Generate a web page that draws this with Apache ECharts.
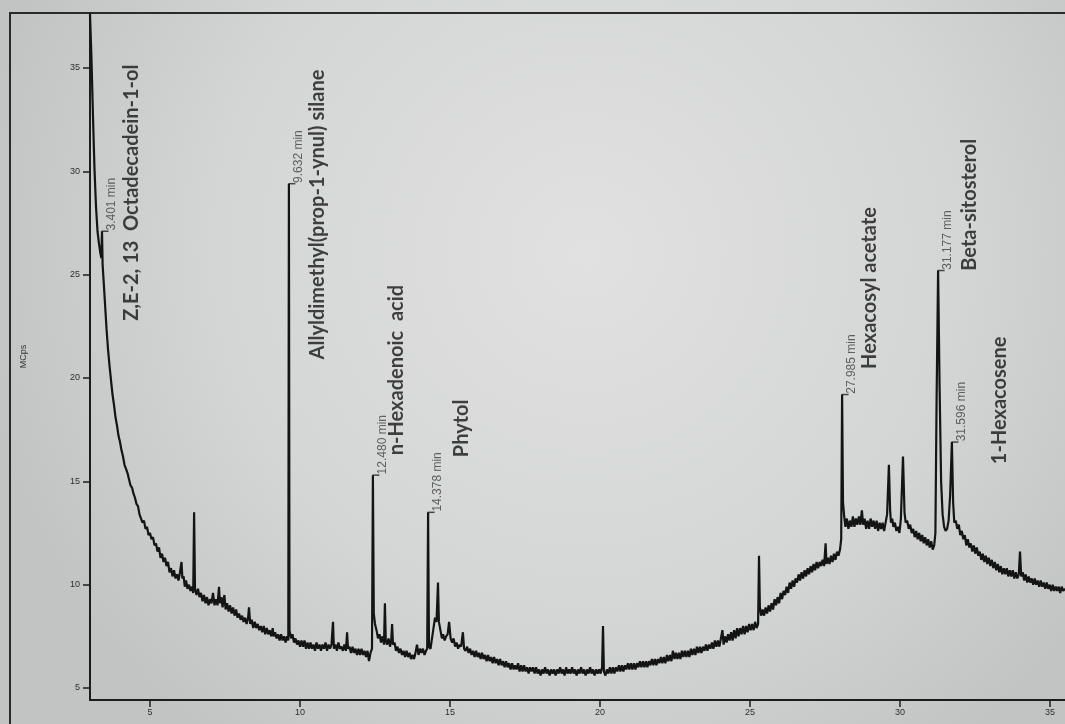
<!DOCTYPE html>
<html>
<head>
<meta charset="utf-8">
<title>GC-MS chromatogram</title>
<script src="https://cdn.jsdelivr.net/npm/echarts@6/dist/echarts.min.js"></script>
<style>
    html, body { margin: 0; padding: 0; background: #cfd1d0; }
    #chart { width: 1065px; height: 724px; }
</style>
</head>
<body>
<div id="chart"></div>
<script>
/**
 * Chromatogram trace: [retention time (min), signal (MCps)]
 */
const trace = [
    [3.00, 37.6], [3.05, 35.4], [3.10, 32.6], [3.15, 30.1], [3.20, 28.3], [3.25, 27.1], [3.30, 26.5], [3.35, 26.0],
    [3.38, 25.8], [3.40, 27.1], [3.42, 25.5], [3.45, 24.8], [3.50, 23.6], [3.55, 22.4], [3.60, 21.4], [3.65, 20.6],
    [3.70, 19.9], [3.75, 19.2], [3.80, 18.7], [3.85, 18.1], [3.90, 17.7], [3.95, 17.2], [4.00, 16.9], [4.05, 16.5],
    [4.10, 16.2], [4.15, 15.8], [4.20, 15.6], [4.25, 15.4], [4.30, 15.1], [4.35, 14.8], [4.40, 14.7], [4.45, 14.4],
    [4.50, 14.2], [4.55, 13.9], [4.60, 13.8], [4.65, 13.4], [4.70, 13.4], [4.75, 13.0], [4.80, 13.1], [4.85, 12.7],
    [4.90, 12.8], [4.95, 12.4], [5.00, 12.5], [5.05, 12.2], [5.10, 12.3], [5.15, 11.9], [5.20, 12.0], [5.25, 11.6],
    [5.30, 11.8], [5.35, 11.3], [5.40, 11.5], [5.45, 11.1], [5.50, 11.3], [5.55, 10.9], [5.60, 11.1], [5.65, 10.6],
    [5.70, 10.8], [5.75, 10.4], [5.80, 10.7], [5.85, 10.3], [5.90, 10.5], [5.95, 10.2], [6.00, 10.6], [6.05, 11.1],
    [6.08, 10.3], [6.12, 10.4], [6.16, 9.9], [6.20, 10.2], [6.25, 9.8], [6.30, 10.0], [6.35, 9.7], [6.40, 9.9],
    [6.44, 9.6], [6.47, 13.5], [6.50, 9.8], [6.55, 9.5], [6.60, 9.8], [6.65, 9.4], [6.70, 9.6], [6.75, 9.2],
    [6.80, 9.5], [6.85, 9.1], [6.90, 9.4], [6.95, 9.0], [7.00, 9.3], [7.05, 9.1], [7.10, 9.6], [7.15, 9.0],
    [7.20, 9.3], [7.25, 9.0], [7.30, 9.9], [7.33, 9.1], [7.38, 9.4], [7.42, 8.9], [7.48, 9.5], [7.52, 8.8],
    [7.57, 9.1], [7.62, 8.7], [7.67, 9.0], [7.72, 8.6], [7.77, 8.9], [7.82, 8.5], [7.87, 8.8], [7.92, 8.4],
    [7.97, 8.6], [8.02, 8.3], [8.07, 8.5], [8.12, 8.2], [8.17, 8.4], [8.22, 8.1], [8.27, 8.4], [8.30, 8.9],
    [8.34, 8.1], [8.39, 8.3], [8.44, 7.9], [8.49, 8.2], [8.54, 7.9], [8.59, 8.1], [8.64, 7.8], [8.69, 8.0],
    [8.74, 7.7], [8.79, 8.0], [8.84, 7.6], [8.89, 7.9], [8.94, 7.6], [8.99, 7.8], [9.04, 7.5], [9.09, 7.9],
    [9.12, 7.5], [9.17, 7.7], [9.22, 7.4], [9.27, 7.6], [9.32, 7.3], [9.37, 7.6], [9.42, 7.3], [9.47, 7.5],
    [9.52, 7.2], [9.57, 7.5], [9.61, 7.3], [9.63, 29.4], [9.65, 7.8], [9.70, 7.4], [9.75, 7.6], [9.80, 7.2],
    [9.85, 7.4], [9.90, 7.1], [9.95, 7.3], [10.00, 7.0], [10.05, 7.3], [10.10, 7.0], [10.15, 7.3], [10.20, 6.9],
    [10.25, 7.2], [10.30, 6.9], [10.35, 7.2], [10.40, 6.9], [10.45, 7.1], [10.50, 6.8], [10.55, 7.2], [10.60, 6.9],
    [10.65, 7.1], [10.70, 6.8], [10.75, 7.1], [10.80, 6.9], [10.85, 7.2], [10.90, 6.8], [10.95, 7.1], [11.00, 6.9],
    [11.05, 7.1], [11.10, 8.2], [11.13, 6.9], [11.18, 7.1], [11.23, 6.8], [11.28, 7.2], [11.33, 6.9], [11.38, 7.0],
    [11.43, 6.8], [11.48, 7.1], [11.53, 6.8], [11.57, 7.7], [11.60, 6.9], [11.65, 7.0], [11.70, 6.7], [11.75, 7.0],
    [11.80, 6.7], [11.85, 6.9], [11.90, 6.6], [11.95, 6.9], [12.00, 6.6], [12.05, 6.9], [12.10, 6.6], [12.15, 6.8],
    [12.20, 6.5], [12.25, 6.8], [12.30, 6.3], [12.35, 6.7], [12.40, 6.9], [12.43, 15.3], [12.46, 8.6], [12.50, 8.1],
    [12.55, 7.8], [12.60, 7.4], [12.65, 7.6], [12.70, 7.2], [12.75, 7.5], [12.80, 7.1], [12.83, 9.1], [12.86, 7.3],
    [12.90, 7.1], [12.95, 7.4], [13.00, 7.0], [13.04, 7.3], [13.07, 8.1], [13.10, 7.1], [13.15, 7.2], [13.20, 6.8],
    [13.25, 7.0], [13.30, 6.7], [13.35, 6.9], [13.40, 6.6], [13.45, 6.8], [13.50, 6.5], [13.55, 6.8], [13.60, 6.5],
    [13.65, 6.7], [13.70, 6.4], [13.75, 6.6], [13.80, 6.4], [13.85, 6.7], [13.90, 7.1], [13.95, 6.6], [14.00, 6.9],
    [14.05, 6.7], [14.10, 6.9], [14.15, 6.6], [14.20, 6.8], [14.24, 6.9], [14.27, 13.5], [14.30, 7.0], [14.35, 6.9],
    [14.40, 7.4], [14.45, 7.9], [14.50, 8.4], [14.55, 8.2], [14.60, 10.1], [14.63, 8.2], [14.68, 7.8], [14.73, 7.4],
    [14.77, 7.6], [14.82, 7.3], [14.87, 7.5], [14.92, 7.6], [14.97, 8.2], [15.02, 7.4], [15.07, 7.2], [15.12, 7.4],
    [15.17, 7.0], [15.22, 7.2], [15.27, 6.9], [15.32, 7.1], [15.37, 7.0], [15.43, 7.7], [15.47, 6.9], [15.52, 6.8],
    [15.57, 7.0], [15.62, 6.7], [15.67, 6.9], [15.72, 6.6], [15.77, 6.8], [15.82, 6.5], [15.87, 6.8], [15.92, 6.5],
    [15.97, 6.7], [16.02, 6.4], [16.07, 6.7], [16.12, 6.4], [16.17, 6.6], [16.22, 6.3], [16.27, 6.6], [16.32, 6.3],
    [16.37, 6.5], [16.42, 6.2], [16.47, 6.5], [16.52, 6.2], [16.57, 6.4], [16.62, 6.1], [16.67, 6.4], [16.72, 6.1],
    [16.77, 6.3], [16.82, 6.0], [16.87, 6.3], [16.92, 6.0], [16.97, 6.2], [17.02, 5.9], [17.07, 6.2], [17.12, 5.9],
    [17.17, 6.1], [17.22, 5.9], [17.27, 6.2], [17.32, 5.8], [17.37, 6.1], [17.42, 5.8], [17.47, 6.1], [17.52, 5.8],
    [17.57, 6.0], [17.62, 5.7], [17.67, 6.0], [17.72, 5.8], [17.77, 6.0], [17.82, 5.7], [17.87, 6.0], [17.92, 5.7],
    [17.97, 5.9], [18.02, 5.6], [18.07, 5.9], [18.12, 5.7], [18.17, 6.0], [18.22, 5.7], [18.27, 5.9], [18.32, 5.6],
    [18.37, 5.9], [18.42, 5.7], [18.47, 5.9], [18.52, 5.6], [18.57, 5.9], [18.62, 5.7], [18.67, 6.0], [18.72, 5.7],
    [18.77, 5.9], [18.82, 5.6], [18.87, 6.0], [18.92, 5.7], [18.97, 5.9], [19.02, 5.7], [19.07, 6.0], [19.12, 5.7],
    [19.17, 5.9], [19.22, 5.6], [19.27, 5.9], [19.32, 5.7], [19.37, 6.0], [19.42, 5.7], [19.47, 5.9], [19.52, 5.6],
    [19.57, 5.9], [19.62, 5.7], [19.67, 6.0], [19.72, 5.7], [19.77, 5.9], [19.82, 5.6], [19.87, 5.9], [19.92, 5.7],
    [19.97, 5.9], [20.02, 5.7], [20.07, 6.0], [20.10, 8.0], [20.13, 5.8], [20.18, 5.6], [20.23, 5.9], [20.28, 5.7],
    [20.33, 6.0], [20.38, 5.7], [20.43, 6.0], [20.48, 5.7], [20.53, 6.0], [20.58, 5.8], [20.63, 6.1], [20.68, 5.8],
    [20.73, 6.1], [20.78, 5.8], [20.83, 6.1], [20.88, 5.9], [20.93, 6.2], [20.98, 5.9], [21.03, 6.2], [21.08, 5.9],
    [21.13, 6.2], [21.18, 5.9], [21.23, 6.2], [21.28, 6.0], [21.33, 6.3], [21.38, 6.0], [21.43, 6.3], [21.48, 6.0],
    [21.53, 6.3], [21.58, 6.0], [21.63, 6.3], [21.68, 6.1], [21.73, 6.4], [21.78, 6.1], [21.83, 6.4], [21.88, 6.1],
    [21.93, 6.4], [21.98, 6.2], [22.03, 6.5], [22.08, 6.2], [22.13, 6.5], [22.18, 6.2], [22.23, 6.6], [22.28, 6.3],
    [22.33, 6.6], [22.38, 6.3], [22.43, 6.8], [22.48, 6.4], [22.53, 6.7], [22.58, 6.4], [22.63, 6.7], [22.68, 6.4],
    [22.73, 6.8], [22.78, 6.5], [22.83, 6.8], [22.88, 6.5], [22.93, 6.8], [22.98, 6.5], [23.03, 6.9], [23.08, 6.6],
    [23.13, 6.9], [23.18, 6.6], [23.23, 7.0], [23.28, 6.7], [23.33, 7.0], [23.38, 6.7], [23.43, 7.0], [23.48, 6.8],
    [23.53, 7.1], [23.58, 6.8], [23.63, 7.1], [23.68, 6.9], [23.73, 7.2], [23.78, 6.9], [23.83, 7.3], [23.88, 7.0],
    [23.93, 7.3], [23.98, 7.0], [24.03, 7.4], [24.08, 7.8], [24.12, 7.1], [24.17, 7.5], [24.22, 7.2], [24.27, 7.6],
    [24.32, 7.3], [24.37, 7.7], [24.42, 7.3], [24.47, 7.8], [24.52, 7.4], [24.57, 7.9], [24.62, 7.5], [24.67, 7.9],
    [24.72, 7.6], [24.77, 8.0], [24.82, 7.6], [24.87, 8.0], [24.92, 7.7], [24.97, 8.1], [25.02, 7.8], [25.07, 8.1],
    [25.12, 7.8], [25.17, 8.2], [25.22, 7.9], [25.27, 8.1], [25.30, 11.4], [25.33, 8.9], [25.37, 8.5], [25.42, 8.8],
    [25.47, 8.5], [25.52, 8.9], [25.57, 8.6], [25.62, 9.0], [25.67, 8.7], [25.72, 9.1], [25.77, 8.8], [25.82, 9.3],
    [25.87, 9.0], [25.92, 9.4], [25.97, 9.1], [26.02, 9.6], [26.07, 9.3], [26.12, 9.7], [26.17, 9.5], [26.22, 9.9],
    [26.27, 9.6], [26.32, 10.1], [26.37, 9.8], [26.42, 10.2], [26.47, 9.9], [26.52, 10.3], [26.57, 10.1], [26.62, 10.5],
    [26.67, 10.2], [26.72, 10.6], [26.77, 10.3], [26.82, 10.7], [26.87, 10.4], [26.92, 10.8], [26.97, 10.5], [27.02, 10.9],
    [27.07, 10.6], [27.12, 11.0], [27.17, 10.7], [27.22, 11.1], [27.27, 10.8], [27.32, 11.1], [27.37, 10.9], [27.42, 11.2],
    [27.47, 10.9], [27.52, 12.0], [27.55, 11.0], [27.60, 11.3], [27.65, 11.0], [27.70, 11.4], [27.75, 11.1], [27.80, 11.5],
    [27.85, 11.2], [27.90, 11.6], [27.95, 11.4], [28.00, 11.7], [28.04, 12.2], [28.07, 19.2], [28.10, 14.0], [28.14, 13.3],
    [28.18, 12.8], [28.23, 13.2], [28.28, 12.7], [28.33, 13.1], [28.38, 12.8], [28.43, 13.3], [28.48, 12.8], [28.53, 13.2],
    [28.58, 12.9], [28.63, 13.3], [28.68, 12.9], [28.73, 13.6], [28.77, 12.9], [28.82, 13.2], [28.87, 12.7], [28.92, 13.1],
    [28.97, 12.7], [29.02, 13.2], [29.07, 12.8], [29.12, 13.1], [29.17, 12.7], [29.22, 13.1], [29.27, 12.6], [29.32, 13.0],
    [29.37, 12.7], [29.42, 13.0], [29.47, 12.6], [29.52, 13.0], [29.57, 13.4], [29.63, 15.8], [29.67, 13.6], [29.70, 13.0],
    [29.74, 13.2], [29.78, 12.8], [29.83, 13.0], [29.88, 12.6], [29.93, 12.8], [29.98, 12.5], [30.03, 13.2], [30.10, 16.2],
    [30.15, 13.5], [30.19, 13.0], [30.24, 13.1], [30.29, 12.7], [30.34, 12.9], [30.39, 12.5], [30.44, 12.7], [30.49, 12.3],
    [30.54, 12.6], [30.59, 12.2], [30.64, 12.5], [30.69, 12.1], [30.74, 12.4], [30.79, 12.0], [30.84, 12.3], [30.89, 11.9],
    [30.94, 12.2], [30.99, 11.8], [31.04, 12.1], [31.09, 11.7], [31.14, 11.9], [31.18, 12.5], [31.22, 19.0], [31.27, 25.2],
    [31.32, 19.5], [31.37, 15.0], [31.42, 13.4], [31.47, 12.8], [31.52, 12.6], [31.57, 12.7], [31.62, 13.1], [31.67, 14.3],
    [31.73, 16.9], [31.77, 14.0], [31.81, 13.0], [31.86, 13.1], [31.91, 12.7], [31.96, 12.9], [32.01, 12.4], [32.06, 12.6],
    [32.11, 12.2], [32.16, 12.4], [32.21, 11.9], [32.26, 12.2], [32.31, 11.8], [32.36, 12.0], [32.41, 11.6], [32.46, 11.9],
    [32.51, 11.5], [32.56, 11.8], [32.61, 11.4], [32.66, 11.6], [32.71, 11.2], [32.76, 11.5], [32.81, 11.1], [32.86, 11.4],
    [32.91, 11.0], [32.96, 11.3], [33.01, 10.9], [33.06, 11.2], [33.11, 10.8], [33.16, 11.1], [33.21, 10.7], [33.26, 11.0],
    [33.31, 10.6], [33.36, 10.9], [33.41, 10.5], [33.46, 10.8], [33.51, 10.5], [33.56, 10.8], [33.61, 10.4], [33.66, 10.7],
    [33.71, 10.4], [33.76, 10.7], [33.81, 10.3], [33.86, 10.6], [33.91, 10.3], [33.96, 10.5], [34.00, 11.6], [34.04, 10.4],
    [34.09, 10.6], [34.14, 10.2], [34.19, 10.5], [34.24, 10.1], [34.29, 10.4], [34.34, 10.1], [34.39, 10.3], [34.44, 10.0],
    [34.49, 10.3], [34.54, 10.0], [34.59, 10.2], [34.64, 9.9], [34.69, 10.2], [34.74, 9.9], [34.79, 10.1], [34.84, 9.8],
    [34.89, 10.1], [34.94, 9.8], [34.99, 10.0], [35.04, 9.7], [35.09, 10.0], [35.14, 9.7], [35.19, 9.9], [35.24, 9.7],
    [35.29, 9.9], [35.34, 9.6], [35.39, 9.9], [35.44, 9.7], [35.50, 9.8],
];

/**
 * Integrated peaks: apex position and the retention time printed beside it
 */
const peakRt = [3.40, 9.63, 12.43, 14.27, 28.07, 31.27, 31.73];
const peakTop = [27.1, 29.4, 15.3, 13.5, 19.2, 25.2, 16.9];
const peakText = ['3.401 min', '9.632 min', '12.480 min', '14.378 min', '27.985 min', '31.177 min', '31.596 min'];

/**
 * Hand-written compound names (where each name starts on the print)
 */
const compoundNames = [
    'Z,E-2, 13  Octadecadein-1-ol',
    'Allyldimethyl(prop-1-ynul) silane',
    'n-Hexadenoic  acid',
    'Phytol',
    'Hexacosyl acetate',
    'Beta-sitosterol',
    '1-Hexacosene',
];
const compoundRt = [4.37, 10.6, 13.23, 15.4, 29.0, 32.33, 33.33];
const compoundAt = [22.77, 20.9, 16.26, 16.17, 20.44, 25.19, 15.83];

const yTicks = [5, 10, 15, 20, 25, 30, 35];
const xTicks = [5, 10, 15, 20, 25, 30, 35];

const chart = echarts.init(document.getElementById('chart'));

const axisColor = '#1c1c1c';
const tickFont = { fontSize: 9, color: '#2e2e2e', fontFamily: 'Liberation Sans, Arial, sans-serif' };

chart.setOption({
    animation: false,
    backgroundColor: {
        type: 'radial',
        x: 0.55,
        y: 0.35,
        r: 0.85,
        colorStops: [
            { offset: 0, color: '#e0e1e0' },
            { offset: 0.6, color: '#d4d6d5' },
            { offset: 1, color: '#c2c4c3' },
        ],
    },
    graphic: [
        {
            // the printed frame of the page
            type: 'rect',
            shape: { x: 10, y: 13, width: 1080, height: 740 },
            style: { fill: 'none', stroke: '#2a2a2a', lineWidth: 2 },
            silent: true,
        },
    ],
    grid: { left: 90, right: 0, top: 13, bottom: 24 },
    xAxis: {
        type: 'value',
        min: 3,
        max: 35.5,
        axisLine: { lineStyle: { color: axisColor, width: 2 } },
        axisTick: { length: 7, lineStyle: { color: axisColor, width: 1.5 }, customValues: xTicks },
        axisLabel: Object.assign({ margin: 8, customValues: xTicks }, tickFont),
        splitLine: { show: false },
    },
    yAxis: {
        type: 'value',
        min: 4.42,
        max: 37.66,
        name: 'MCps',
        nameLocation: 'middle',
        nameRotate: 90,
        nameGap: 62,
        nameTextStyle: { fontSize: 9, color: '#333', fontFamily: 'Liberation Sans, Arial, sans-serif' },
        axisLine: { show: true, lineStyle: { color: axisColor, width: 2 } },
        axisTick: { show: true, length: 7, lineStyle: { color: axisColor, width: 1.5 }, customValues: yTicks },
        axisLabel: Object.assign({ margin: 10, customValues: yTicks }, tickFont),
        splitLine: { show: false },
    },
    series: [
        {
            name: 'TIC',
            type: 'line',
            data: trace,
            showSymbol: false,
            smooth: false,
            lineStyle: { color: '#141414', width: 2.2 },
            z: 3,
        },
        {
            name: 'Peak times',
            type: 'scatter',
            data: peakRt.map((rt, i) => [rt, peakTop[i], peakText[i]]),
            symbol: 'rect',
            symbolSize: [7, 1.5],
            symbolOffset: [3, 0],
            itemStyle: { color: '#222' },
            label: {
                show: true,
                formatter: (p) => p.value[2],
                position: [4, 0],
                rotate: 90,
                align: 'left',
                verticalAlign: 'top',
                fontSize: 12,
                color: '#404040',
                fontFamily: 'Liberation Sans Narrow, Arial Narrow, sans-serif',
            },
            z: 4,
        },
        {
            name: 'Compounds',
            type: 'scatter',
            data: compoundRt.map((rt, i) => [rt, compoundAt[i], compoundNames[i]]),
            symbolSize: 0,
            label: {
                show: true,
                formatter: (p) => p.value[2],
                position: [0, 0],
                rotate: 90,
                align: 'left',
                verticalAlign: 'middle',
                fontSize: 20,
                fontWeight: 'bold',
                color: '#161616',
                fontFamily: 'Lato, sans-serif',
            },
            z: 5,
        },
    ],
});
</script>
</body>
</html>
